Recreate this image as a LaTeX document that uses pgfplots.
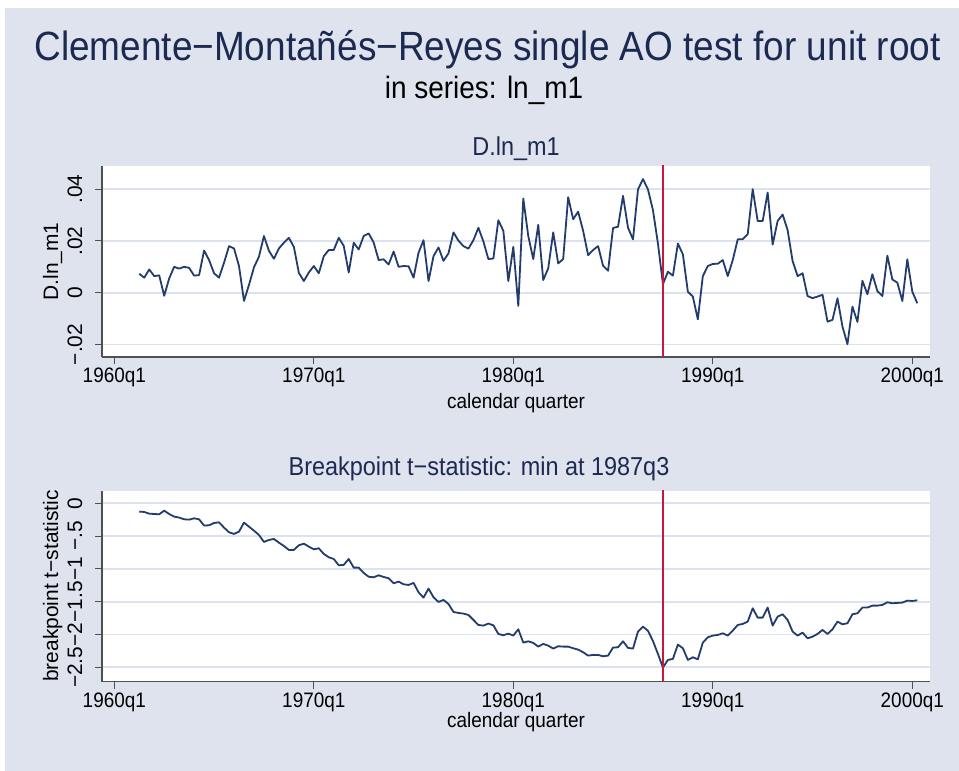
\documentclass[border=0pt]{standalone}
\usepackage{pgfplots}
\pgfplotsset{compat=1.18}
\usepackage{pgfplotstable}
\usepackage{fontspec}
\setmainfont{Liberation Sans}
\definecolor{bgcol}{RGB}{222,227,238}
\definecolor{gridcol}{RGB}{221,227,238}
\definecolor{linecol}{RGB}{35,60,110}
\definecolor{redcol}{RGB}{200,25,60}
\definecolor{titlecol}{RGB}{28,42,82}
\definecolor{axcol}{RGB}{80,80,80}

\pgfplotstableread{
q v
5 .0073
6 .0058
7 .0090
8 .0064
9 .0067
10 -.0012
11 .0055
12 .0100
13 .0093
14 .0100
15 .0096
16 .0066
17 .0068
18 .0163
19 .0126
20 .0075
21 .0058
22 .0116
23 .0180
24 .0171
25 .0103
26 -.0032
27 .0030
28 .0098
29 .0139
30 .0219
31 .0162
32 .0131
33 .0171
34 .0193
35 .0212
36 .0177
37 .0077
38 .0045
39 .0078
40 .0103
41 .0075
42 .0141
43 .0165
44 .0165
45 .0212
46 .0181
47 .0078
48 .0193
49 .0167
50 .0219
51 .0229
52 .0194
53 .0126
54 .0129
55 .0109
56 .0159
57 .0100
58 .0103
59 .0102
60 .0058
61 .0154
62 .0203
63 .0045
64 .0141
65 .0175
66 .0123
67 .0152
68 .0233
69 .0201
70 .0180
71 .0170
72 .0203
73 .0251
74 .0198
75 .0130
76 .0132
77 .0280
78 .0239
79 .0045
80 .0177
81 -.0051
82 .0364
83 .0219
84 .0130
85 .0262
86 .0049
87 .0094
88 .0233
89 .0113
90 .0130
91 .0369
92 .0284
93 .0313
94 .0239
95 .0145
96 .0165
97 .0180
98 .0104
99 .0085
100 .0250
101 .0255
102 .0374
103 .0251
104 .0206
105 .0399
106 .0439
107 .0399
108 .0319
109 .0190
110 .0033
111 .0081
112 .0066
113 .0190
114 .0148
115 .0004
116 -.0015
117 -.0103
118 .0064
119 .0103
120 .0111
121 .0112
122 .0126
123 .0064
124 .0126
125 .0206
126 .0207
127 .0226
128 .0400
129 .0277
130 .0277
131 .0387
132 .0186
133 .0277
134 .0302
135 .0242
136 .0122
137 .0064
138 .0075
139 -.0013
140 -.0021
141 -.0015
142 -.0008
143 -.0112
144 -.0105
145 -.0022
146 -.0131
147 -.0199
148 -.0054
149 -.0113
150 .0046
151 -.0006
152 .0071
153 .0006
154 -.0013
155 .0143
156 .0051
157 .0039
158 -.0032
159 .0129
160 .0004
161 -.0041
}\topdata

\pgfplotstableread{
q v
5 -.127
6 -.132
7 -.158
8 -.163
9 -.168
10 -.112
11 -.163
12 -.203
13 -.218
14 -.244
15 -.249
16 -.229
17 -.244
18 -.340
19 -.335
20 -.300
21 -.290
22 -.371
23 -.442
24 -.467
25 -.432
26 -.295
27 -.356
28 -.417
29 -.483
30 -.589
31 -.559
32 -.544
33 -.600
34 -.650
35 -.711
36 -.711
37 -.640
38 -.615
39 -.661
40 -.701
41 -.686
42 -.772
43 -.823
44 -.849
45 -.945
46 -.940
47 -.849
48 -.981
49 -.981
50 -1.062
51 -1.120
52 -1.128
53 -1.098
54 -1.123
55 -1.143
56 -1.220
57 -1.194
58 -1.235
59 -1.245
60 -1.214
61 -1.357
62 -1.438
63 -1.301
64 -1.433
65 -1.504
66 -1.474
67 -1.535
68 -1.657
69 -1.672
70 -1.682
71 -1.702
72 -1.778
73 -1.855
74 -1.865
75 -1.834
76 -1.860
77 -1.992
78 -2.012
79 -1.987
80 -2.017
81 -1.921
82 -2.124
83 -2.104
84 -2.129
85 -2.185
86 -2.144
87 -2.170
88 -2.215
89 -2.180
90 -2.185
91 -2.185
92 -2.210
93 -2.231
94 -2.271
95 -2.322
96 -2.312
97 -2.312
98 -2.332
99 -2.322
100 -2.200
101 -2.195
102 -2.104
103 -2.205
104 -2.215
105 -1.956
106 -1.880
107 -1.945
108 -2.099
109 -2.297
110 -2.505
111 -2.388
112 -2.373
113 -2.154
114 -2.210
115 -2.388
116 -2.348
117 -2.378
118 -2.124
119 -2.043
120 -2.017
121 -2.007
122 -1.982
123 -2.017
124 -1.941
125 -1.855
126 -1.839
127 -1.804
128 -1.601
129 -1.743
130 -1.743
131 -1.590
132 -1.865
133 -1.728
134 -1.692
135 -1.778
136 -1.956
137 -2.017
138 -1.972
139 -2.058
140 -2.033
141 -1.992
142 -1.931
143 -1.992
144 -1.921
145 -1.804
146 -1.845
147 -1.829
148 -1.692
149 -1.677
150 -1.590
151 -1.590
152 -1.560
153 -1.560
154 -1.550
155 -1.509
156 -1.524
157 -1.519
158 -1.514
159 -1.484
160 -1.489
161 -1.479
}\botdata

\pgfplotsset{
  cmr/.style={
    scale only axis, width=828bp, height=191bp,
    xmin=-2.47, xmax=163.55,
    axis x line*=bottom, axis y line*=left,
    axis line style={-, draw=axcol, line width=1.2bp},
    tick align=outside, major tick length=7bp,
    tick style={draw=axcol, line width=1.1bp},
    xtick={0,40,80,120,160},
    xticklabels={1960q1,1970q1,1980q1,1990q1,2000q1},
    scaled ticks=false,
    minor tick num=0,
    ymajorgrids, major grid style={draw=gridcol, line width=1.8bp},
    axis background/.style={fill=white},
    ticklabel style={font=\fontsize{21}{21}\selectfont, text=black, inner sep=0pt},
    xticklabel style={anchor=north, xscale=0.905},
    yticklabel style={rotate=90, anchor=base},
    xticklabel shift=4bp,
    yticklabel shift=13bp,
    clip=true,
  }
}

\begin{document}
\begin{tikzpicture}
\path[use as bounding box] (0bp,0bp) rectangle (959bp,771bp);
\fill[white] (0bp,0bp) rectangle (959bp,771bp);
\fill[bgcol] (5bp,0bp) rectangle (959bp,763bp);

\begin{axis}[cmr, at={(102bp,414bp)}, anchor=south west,
  ymin=-0.02485, ymax=0.04896,
  ytick={-0.02,0,0.02,0.04}, yticklabels={−.02,0,.02,.04}]
\addplot[linecol, line width=1.8bp, line join=round] table[x=q,y=v] {\topdata};
\addplot[redcol, line width=1.8bp] coordinates {(110,-0.03) (110,0.06)};
\end{axis}

\begin{axis}[cmr, at={(102bp,89.3bp)}, anchor=south west,
  ymin=-2.72, ymax=0.192,
  ytick={-2.5,-2,-1.5,-1,-0.5,0}, yticklabels={−2.5,−2,−1.5,−1,−.5,0}]
\addplot[linecol, line width=1.8bp, line join=round] table[x=q,y=v] {\botdata};
\addplot[redcol, line width=1.8bp] coordinates {(110,-3) (110,0.5)};
\end{axis}

\node[anchor=base, text=titlecol, font=\fontsize{41}{41}\selectfont, xscale=0.905, inner sep=0pt] at (487.5bp,710bp) {Clemente−Montañés−Reyes single AO test for unit root};
\node[anchor=base, text=black, font=\fontsize{31}{31}\selectfont, xscale=0.905, inner sep=0pt] at (484bp,672bp) {in series: ln\_m1};
\node[anchor=base, text=titlecol, font=\fontsize{26}{26}\selectfont, xscale=0.905, inner sep=0pt] at (516bp,615bp) {D.ln\_m1};
\node[anchor=base, text=black, font=\fontsize{21}{21}\selectfont, xscale=0.905, inner sep=0pt] at (516bp,362bp) {calendar quarter};
\node[anchor=base, text=black, font=\fontsize{21}{21}\selectfont, rotate=90, inner sep=0pt] at (58bp,509.5bp) {D.ln\_m1};
\node[anchor=base, text=titlecol, font=\fontsize{26}{26}\selectfont, xscale=0.905, inner sep=0pt] at (479bp,295bp) {Breakpoint t−statistic: min at 1987q3};
\node[anchor=base, text=black, font=\fontsize{21}{21}\selectfont, xscale=0.905, inner sep=0pt] at (516bp,43bp) {calendar quarter};
\node[anchor=base, text=black, font=\fontsize{21}{21}\selectfont, rotate=90, inner sep=0pt] at (58bp,185bp) {breakpoint t−statistic};
\end{tikzpicture}
\end{document}
